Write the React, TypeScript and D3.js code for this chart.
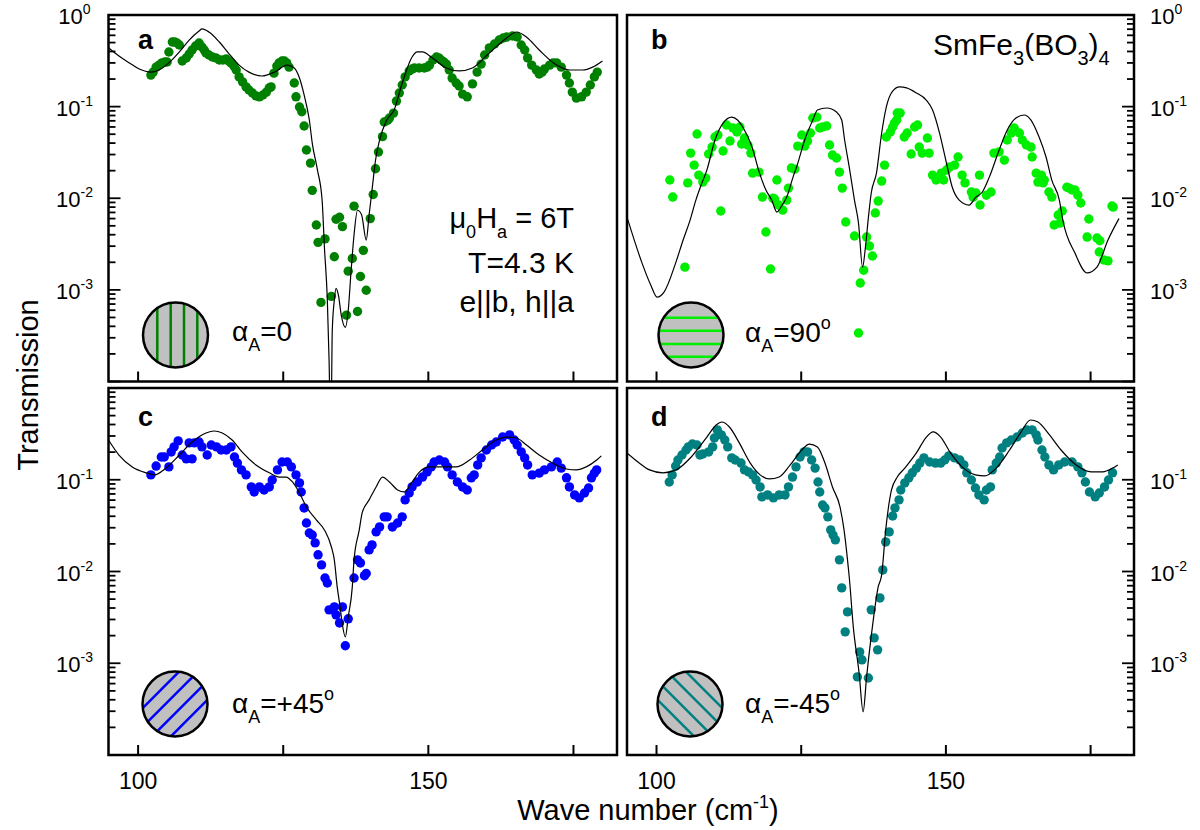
import React from 'react';
import * as d3 from 'd3';

type Pt = [number, number];

// ---------------- axes ----------------
const X_DOMAIN: [number, number] = [94.9, 182.5];
const Y_DOMAIN: [number, number] = [1e-4, 1];
const X_MAJOR_TICKS = [100, 125, 150, 175];
const X_TICK_LABELS = [100, 150];
const Y_EXP_TOP = [0, -1, -2, -3];
const Y_EXP_BOTTOM = [-1, -2, -3];

// ---------------- panel a (alpha_A = 0) ----------------
const dotsA: Pt[] = [
  [102.2, 0.221], [102.6, 0.238], [103.1, 0.27], [103.6, 0.284], [104.1, 0.3], [104.6, 0.307], [105.0, 0.307],
  [105.3, 0.395], [105.9, 0.507], [106.3, 0.507], [106.7, 0.495], [107.1, 0.47], [107.6, 0.315], [108.3, 0.34],
  [108.8, 0.375], [109.3, 0.415], [109.9, 0.459], [110.5, 0.495], [111.0, 0.448], [111.4, 0.415], [111.7, 0.385],
  [112.2, 0.366], [112.8, 0.348], [113.4, 0.34], [114.0, 0.323], [114.6, 0.323], [115.2, 0.331], [115.6, 0.315],
  [116.0, 0.3], [116.5, 0.277], [116.9, 0.251], [117.4, 0.211], [118.0, 0.186], [118.6, 0.164], [119.1, 0.152],
  [119.7, 0.141], [120.3, 0.131], [120.9, 0.128], [121.5, 0.134], [122.1, 0.144], [122.6, 0.16], [122.9, 0.164],
  [123.4, 0.232], [123.9, 0.277], [124.3, 0.3], [124.8, 0.315], [125.2, 0.315], [125.6, 0.3], [126.0, 0.27],
  [126.9, 0.181], [127.2, 0.128], [127.8, 0.099], [128.2, 0.088], [128.6, 0.0614], [129.0, 0.0336], [129.7, 0.0242],
  [130.0, 0.0122], [130.7, 0.0051], [131.0, 0.0033], [131.5, 0.00073], [132.2, 0.0036], [133.3, 0.00085],
  [133.8, 0.0023], [134.1, 0.0059], [134.7, 0.0062], [135.2, 0.0049], [135.9, 0.00053], [136.2, 0.0016],
  [136.9, 0.0022], [137.2, 0.0082], [137.8, 0.00058], [138.3, 0.0014], [138.8, 0.0027], [139.3, 0.00099],
  [140.0, 0.006], [140.5, 0.011], [140.9, 0.021], [141.4, 0.032], [142.1, 0.047], [142.4, 0.068], [143.0, 0.071],
  [143.3, 0.075], [144.0, 0.085], [144.5, 0.115], [145.0, 0.141], [145.5, 0.172], [146.0, 0.211], [146.7, 0.245],
  [147.2, 0.257], [147.6, 0.264], [148.4, 0.264], [149.3, 0.264], [149.8, 0.27], [150.2, 0.284], [150.8, 0.323],
  [151.4, 0.348], [151.8, 0.34], [152.2, 0.323], [152.7, 0.307], [153.1, 0.291], [153.6, 0.251], [154.1, 0.205],
  [154.8, 0.181], [155.3, 0.168], [155.9, 0.137], [156.7, 0.128], [157.6, 0.177], [158.4, 0.238], [159.1, 0.291],
  [159.7, 0.366], [160.5, 0.437], [161.4, 0.482], [162.2, 0.533], [162.9, 0.561], [163.5, 0.575], [164.5, 0.59],
  [165.3, 0.575], [166.0, 0.47], [166.6, 0.415], [167.1, 0.34], [167.8, 0.284], [168.6, 0.251], [169.1, 0.227],
  [169.6, 0.238], [170.0, 0.257], [170.9, 0.284], [171.5, 0.3], [172.1, 0.3], [172.9, 0.27], [173.8, 0.221],
  [174.3, 0.181], [174.8, 0.144], [175.5, 0.124], [176.4, 0.128], [177.2, 0.144], [177.9, 0.172], [178.6, 0.211],
  [179.1, 0.238],
];
const fitA: Pt[] = [
  [94.9, 0.44], [96.7, 0.357], [98.5, 0.3], [100.2, 0.257], [102.2, 0.238], [103.6, 0.251], [105.3, 0.3],
  [107.1, 0.395], [108.8, 0.533], [110.5, 0.669], [111.0, 0.704], [112.2, 0.652], [114.0, 0.507], [115.7, 0.375],
  [117.4, 0.284], [119.1, 0.238], [121.4, 0.216], [123.5, 0.238], [125.7, 0.284], [126.9, 0.264], [127.8, 0.205],
  [128.6, 0.134], [129.5, 0.0714], [130.0, 0.04], [130.9, 0.0203], [131.7, 0.0095], [132.1, 0.0029],
  [132.6, 0.00077], [132.9, 0.00017], [133.2, 0.00002], [133.45, 0.00036], [133.8, 0.00077], [134.1, 0.00104],
  [134.5, 0.00088], [135.0, 0.00053], [135.7, 0.00039], [136.2, 0.0006], [136.7, 0.00164], [137.2, 0.004],
  [137.8, 0.0074], [138.5, 0.0066], [139.3, 0.0035], [139.8, 0.0066], [140.3, 0.0123], [140.9, 0.026],
  [141.6, 0.043], [142.8, 0.071], [144.1, 0.092], [145.5, 0.181], [147.2, 0.348], [148.1, 0.395], [149.0, 0.395],
  [150.7, 0.34], [153.1, 0.264], [155.3, 0.245], [157.6, 0.264], [160.5, 0.385], [163.5, 0.561], [165.2, 0.652],
  [166.9, 0.575], [169.1, 0.415], [172.1, 0.284], [174.3, 0.251], [176.6, 0.251], [178.3, 0.27], [180.0, 0.315],
];

// ---------------- panel b (alpha_A = 90) ----------------
const dotsB: Pt[] = [
  [102.3, 0.0158], [102.8, 0.0103], [104.9, 0.00177], [105.4, 0.0147], [105.9, 0.0311], [106.5, 0.023],
  [107.0, 0.0502], [107.3, 0.0179], [108.0, 0.015], [108.5, 0.0166], [109.0, 0.0304], [109.6, 0.0362],
  [110.1, 0.0466], [110.6, 0.049], [111.1, 0.00725], [111.5, 0.0328], [112.1, 0.063], [112.7, 0.0421],
  [113.2, 0.0584], [113.9, 0.0528], [114.4, 0.0599], [114.7, 0.0391], [115.2, 0.0454], [115.8, 0.038],
  [116.3, 0.0311], [116.6, 0.0188], [117.7, 0.0193], [118.3, 0.0103], [118.9, 0.00428], [119.7, 0.00169],
  [120.1, 0.01], [120.4, 0.0098], [120.8, 0.0158], [121.1, 0.00843], [121.8, 0.00743], [122.5, 0.00955],
  [122.8, 0.0129], [123.3, 0.0214], [123.9, 0.0208], [124.4, 0.0371], [125.1, 0.049], [125.6, 0.0371],
  [126.1, 0.0421], [126.6, 0.0515], [127.0, 0.0751], [127.7, 0.0769], [128.2, 0.0584], [128.7, 0.0599],
  [129.4, 0.0614], [129.9, 0.0381], [130.4, 0.0296], [131.1, 0.0275], [131.6, 0.0193], [132.1, 0.0129],
  [132.7, 0.0055], [134.2, 0.00387], [134.9, 0.000338], [135.2, 0.00119], [135.8, 0.00164], [136.3, 0.00377],
  [136.8, 0.00301], [137.3, 0.00234], [137.8, 0.0069], [138.3, 0.00932], [138.9, 0.0154], [139.4, 0.023],
  [139.7, 0.0466], [140.4, 0.0528], [140.8, 0.0599], [141.1, 0.0662], [141.5, 0.0714], [141.6, 0.0851],
  [142.1, 0.0851], [142.8, 0.0466], [143.3, 0.0515], [144.0, 0.0304], [144.6, 0.0599], [145.1, 0.063],
  [145.4, 0.0362], [145.9, 0.0311], [146.8, 0.0454], [147.1, 0.0311], [147.7, 0.0179], [148.3, 0.0158],
  [149.2, 0.0188], [149.6, 0.0158], [150.1, 0.0203], [150.6, 0.0219], [151.5, 0.023], [152.1, 0.0282],
  [152.8, 0.0179], [153.3, 0.0147], [154.4, 0.0117], [154.7, 0.0103], [155.2, 0.0114], [155.8, 0.0179],
  [155.9, 0.00843], [157.0, 0.0108], [157.8, 0.0117], [158.3, 0.0311], [159.2, 0.0321], [160.1, 0.0261],
  [160.6, 0.0432], [161.3, 0.0515], [161.8, 0.0584], [162.7, 0.0515], [163.2, 0.0432], [163.9, 0.0381],
  [164.7, 0.0362], [164.9, 0.0282], [165.6, 0.0188], [165.9, 0.015], [166.5, 0.0179], [166.8, 0.0147],
  [167.0, 0.0158], [167.8, 0.0117], [168.3, 0.0103], [168.7, 0.0051], [169.4, 0.00656], [169.7, 0.00536],
  [170.1, 0.00725], [170.9, 0.0132], [171.3, 0.0129], [171.8, 0.0123], [172.3, 0.0123], [172.8, 0.0108],
  [173.3, 0.00887], [174.4, 0.00377], [174.7, 0.00593], [176.1, 0.00368], [176.5, 0.00259], [176.6, 0.00344],
  [177.3, 0.00212], [178.0, 0.00207], [178.7, 0.00822], [178.9, 0.008],
];
const fitB: Pt[] = [
  [94.9, 0.00623], [97.5, 0.00196], [99.0, 0.00113], [100.1, 0.000834], [101.3, 0.000946], [103.3, 0.00196],
  [104.6, 0.0035], [105.8, 0.00578], [106.8, 0.00955], [107.7, 0.0139], [108.7, 0.0203], [110.1, 0.0432],
  [111.5, 0.0662], [113.0, 0.0769], [114.0, 0.0714], [114.9, 0.0599], [116.5, 0.0362], [117.8, 0.0188],
  [118.9, 0.0123], [119.9, 0.00955], [120.8, 0.00707], [121.5, 0.00802], [122.5, 0.0103], [123.7, 0.0179],
  [124.2, 0.0219], [125.6, 0.0432], [127.0, 0.0714], [127.8, 0.0918], [129.4, 0.0966], [131.1, 0.0873],
  [132.0, 0.0714], [132.5, 0.0432], [133.3, 0.0219], [134.2, 0.00955], [134.9, 0.00536], [135.6, 0.00177],
  [136.1, 0.00293], [136.6, 0.0061], [137.1, 0.0114], [138.0, 0.0188], [138.9, 0.0515], [139.7, 0.0988],
  [140.8, 0.148], [142.0, 0.164], [143.2, 0.16], [144.9, 0.141], [146.6, 0.118], [147.7, 0.0918],
  [148.9, 0.0515], [150.1, 0.0242], [151.1, 0.0132], [152.3, 0.00955], [154.0, 0.00843], [155.2, 0.0103],
  [156.3, 0.0117], [157.5, 0.017], [159.2, 0.0336], [160.6, 0.0555], [162.1, 0.075], [163.5, 0.081],
  [164.7, 0.0714], [166.1, 0.0466], [167.3, 0.0282], [168.3, 0.0158], [169.6, 0.00955], [170.2, 0.00578],
  [172.3, 0.00252], [174.4, 0.00153], [176.1, 0.00177], [178.0, 0.0035], [179.9, 0.006],
];

// ---------------- panel c (alpha_A = +45) ----------------
const dotsC: Pt[] = [
  [102.2, 0.113], [103.1, 0.141], [104.0, 0.177], [104.5, 0.177], [105.3, 0.138], [105.7, 0.201], [106.2, 0.228],
  [106.9, 0.265], [107.6, 0.186], [108.3, 0.169], [108.8, 0.252], [109.3, 0.169], [109.7, 0.252], [110.5, 0.258],
  [111.0, 0.228], [111.9, 0.186], [112.6, 0.239], [113.5, 0.228], [114.3, 0.211], [115.2, 0.211], [116.0, 0.228],
  [116.6, 0.177], [117.1, 0.152], [117.8, 0.128], [118.6, 0.113], [119.5, 0.0835], [120.0, 0.0736],
  [120.9, 0.0835], [121.7, 0.0774], [122.6, 0.0835], [123.1, 0.0995], [124.0, 0.128], [124.8, 0.156],
  [125.7, 0.156], [126.4, 0.138], [127.2, 0.113], [127.8, 0.0923], [128.1, 0.0736], [128.6, 0.0493],
  [129.0, 0.0338], [129.5, 0.0263], [130.0, 0.025], [130.5, 0.0205], [131.0, 0.0152], [131.6, 0.0118],
  [132.2, 0.0085], [132.6, 0.0075], [132.9, 0.00382], [133.8, 0.00411], [134.1, 0.00337], [134.7, 0.00275],
  [135.2, 0.00411], [135.7, 0.00155], [136.2, 0.00305], [137.2, 0.0085], [137.8, 0.0134], [138.3, 0.0124],
  [139.0, 0.009], [139.3, 0.0095], [139.8, 0.0172], [140.3, 0.0195], [141.0, 0.027], [141.6, 0.0306],
  [142.4, 0.0394], [142.9, 0.0394], [143.8, 0.0306], [144.7, 0.0338], [145.5, 0.0394], [146.0, 0.0603],
  [146.7, 0.0718], [147.2, 0.0835], [148.1, 0.0946], [149.0, 0.107], [149.8, 0.122], [150.5, 0.138],
  [151.0, 0.156], [151.9, 0.164], [152.8, 0.156], [153.3, 0.138], [154.1, 0.113], [155.0, 0.0946],
  [155.9, 0.0835], [156.7, 0.0774], [157.4, 0.105], [157.9, 0.113], [158.5, 0.145], [159.1, 0.173],
  [160.0, 0.211], [160.9, 0.239], [161.7, 0.258], [162.8, 0.292], [164.0, 0.308], [164.8, 0.271], [165.3, 0.239],
  [166.0, 0.201], [166.6, 0.173], [167.1, 0.145], [167.9, 0.113], [169.1, 0.118], [170.0, 0.128], [171.2, 0.138],
  [172.2, 0.156], [172.9, 0.134], [173.8, 0.105], [174.3, 0.0835], [175.2, 0.0683], [176.0, 0.0634],
  [176.9, 0.0718], [177.6, 0.0814], [178.1, 0.105], [178.6, 0.118], [179.0, 0.128],
];
const fitC: Pt[] = [
  [94.9, 0.271], [96.7, 0.186], [99.0, 0.138], [101.4, 0.119], [102.8, 0.113], [104.8, 0.134], [107.1, 0.186],
  [109.3, 0.258], [111.7, 0.323], [113.1, 0.34], [114.5, 0.323], [116.2, 0.271], [117.9, 0.201], [120.3, 0.145],
  [122.6, 0.119], [124.3, 0.107], [125.5, 0.107], [126.6, 0.0946], [127.8, 0.0718], [129.0, 0.0506],
  [130.7, 0.0365], [132.1, 0.0284], [133.3, 0.0185], [133.8, 0.0134], [134.3, 0.0068], [134.8, 0.00411],
  [135.2, 0.00262], [135.7, 0.00194], [136.2, 0.0032], [136.9, 0.0068], [137.2, 0.0134], [138.1, 0.0284],
  [138.6, 0.0435], [139.8, 0.0603], [141.0, 0.0835], [142.1, 0.107], [143.3, 0.0946], [144.7, 0.0774],
  [145.9, 0.0736], [147.1, 0.0923], [148.5, 0.122], [150.2, 0.138], [152.4, 0.138], [154.8, 0.138],
  [157.1, 0.164], [159.3, 0.211], [161.7, 0.271], [163.5, 0.292], [165.2, 0.285], [166.9, 0.239], [169.1, 0.186],
  [171.4, 0.152], [173.8, 0.131], [175.5, 0.128], [177.2, 0.138], [179.0, 0.164], [179.8, 0.182],
];

// ---------------- panel d (alpha_A = -45) ----------------
const dotsD: Pt[] = [
  [102.2, 0.0946], [102.7, 0.113], [103.3, 0.141], [103.7, 0.164], [104.4, 0.186], [105.1, 0.211], [105.5, 0.228],
  [106.2, 0.245], [107.0, 0.239], [107.5, 0.186], [108.0, 0.191], [109.0, 0.201], [109.7, 0.228], [110.0, 0.285],
  [110.5, 0.349], [111.2, 0.308], [111.8, 0.271], [112.3, 0.228], [113.0, 0.173], [113.6, 0.164], [114.6, 0.152],
  [115.2, 0.128], [115.9, 0.122], [116.6, 0.113], [117.2, 0.0995], [117.9, 0.0835], [118.2, 0.065],
  [119.2, 0.0683], [120.2, 0.0634], [121.2, 0.0683], [122.2, 0.0683], [122.8, 0.0835], [123.5, 0.107],
  [124.1, 0.138], [124.8, 0.177], [125.5, 0.201], [126.1, 0.201], [126.8, 0.164], [127.4, 0.134], [127.9, 0.0946],
  [128.2, 0.0736], [128.7, 0.0531], [129.1, 0.0493], [129.6, 0.0394], [130.1, 0.0284], [130.5, 0.025],
  [130.9, 0.0221], [131.6, 0.0134], [132.0, 0.00663], [132.6, 0.0022], [133.0, 0.00363], [134.7, 0.00071],
  [135.1, 0.00133], [135.5, 0.00109], [136.6, 0.00069], [137.1, 0.00382], [137.6, 0.00189], [138.2, 0.0014],
  [138.6, 0.00515], [139.1, 0.0104], [139.6, 0.021], [140.2, 0.027], [140.8, 0.0403], [141.2, 0.0493],
  [141.9, 0.0603], [142.2, 0.0774], [142.9, 0.0923], [143.6, 0.105], [144.2, 0.119], [144.9, 0.134],
  [145.5, 0.152], [146.2, 0.173], [147.2, 0.156], [148.2, 0.152], [149.1, 0.152], [149.8, 0.164], [150.5, 0.182],
  [151.5, 0.173], [152.4, 0.164], [153.1, 0.145], [153.6, 0.119], [154.4, 0.0995], [155.1, 0.0814],
  [155.7, 0.0683], [156.6, 0.0603], [157.0, 0.0774], [157.7, 0.0835], [158.0, 0.128], [158.7, 0.152],
  [159.3, 0.177], [159.7, 0.222], [160.5, 0.252], [161.3, 0.271], [162.3, 0.292], [163.2, 0.323], [164.0, 0.349],
  [164.9, 0.349], [165.6, 0.308], [165.9, 0.271], [166.6, 0.211], [167.1, 0.177], [167.8, 0.145], [168.6, 0.128],
  [169.5, 0.145], [170.5, 0.156], [171.8, 0.156], [172.8, 0.138], [173.5, 0.119], [174.1, 0.0946],
  [174.8, 0.0736], [175.8, 0.065], [176.5, 0.0718], [177.4, 0.0835], [178.1, 0.0995], [178.8, 0.119],
];
const fitD: Pt[] = [
  [94.9, 0.196], [96.8, 0.156], [98.8, 0.128], [101.1, 0.119], [103.4, 0.128], [106.0, 0.177], [108.7, 0.292],
  [110.3, 0.395], [111.3, 0.426], [112.6, 0.376], [114.3, 0.252], [116.2, 0.152], [117.9, 0.113], [119.5, 0.102],
  [121.2, 0.107], [123.1, 0.145], [125.1, 0.211], [126.4, 0.245], [127.8, 0.228], [129.1, 0.152], [130.4, 0.0835],
  [131.7, 0.0506], [132.4, 0.0284], [133.0, 0.0134], [133.3, 0.0087], [134.0, 0.00249], [135.0, 0.000785],
  [135.7, 0.000296], [136.3, 0.00071], [137.3, 0.00249], [138.3, 0.0068], [138.9, 0.0092], [139.6, 0.0284],
  [140.6, 0.0774], [141.6, 0.107], [142.9, 0.134], [144.9, 0.196], [146.5, 0.285], [147.8, 0.332],
  [149.1, 0.292], [150.8, 0.196], [152.8, 0.138], [155.1, 0.113], [156.7, 0.11], [158.7, 0.134], [161.0, 0.211],
  [163.0, 0.332], [164.6, 0.448], [165.9, 0.426], [167.9, 0.308], [169.9, 0.211], [172.5, 0.145], [175.1, 0.122],
  [177.1, 0.122], [178.8, 0.134], [179.7, 0.145],
];

// ---------------- layout ----------------
const FONT = "'Liberation Sans', Arial, Helvetica, sans-serif";

interface PanelSpec {
  id: string;
  x0: number; x1: number; y0: number; y1: number;
  side: 'left' | 'right';
  dots: Pt[]; fit: Pt[]; color: string;
  expLabels: number[];
  letter: string; letterX: number; letterY: number;
  circle: { cx: number; cy: number; angle: number; offsets: number[] };
  alpha: { x: number; y: number; value: string; deg: boolean };
}

const PANELS: PanelSpec[] = [
  {
    id: 'a', x0: 108.5, x1: 617, y0: 15, y1: 381.5, side: 'left', dots: dotsA, fit: fitA, color: '#008000',
    expLabels: Y_EXP_TOP, letter: 'a', letterX: 138, letterY: 49,
    circle: { cx: 175.5, cy: 335, angle: 90, offsets: [18.2, 4.8, -8.5, -21.8] },
    alpha: { x: 232, y: 341, value: '=0', deg: false },
  },
  {
    id: 'b', x0: 627, x1: 1134, y0: 15, y1: 381.5, side: 'right', dots: dotsB, fit: fitB, color: '#00ee00',
    expLabels: Y_EXP_TOP, letter: 'b', letterX: 651, letterY: 49,
    circle: { cx: 691, cy: 335, angle: 0, offsets: [-17.3, -4.3, 9, 21.7] },
    alpha: { x: 745, y: 342, value: '=90', deg: true },
  },
  {
    id: 'c', x0: 108.5, x1: 617, y0: 388, y1: 755, side: 'left', dots: dotsC, fit: fitC, color: '#0000ff',
    expLabels: Y_EXP_BOTTOM, letter: 'c', letterX: 138, letterY: 426,
    circle: { cx: 175, cy: 704, angle: -45, offsets: [-20, -6.7, 6.7, 20] },
    alpha: { x: 232, y: 713, value: '=+45', deg: true },
  },
  {
    id: 'd', x0: 627, x1: 1134, y0: 388, y1: 755, side: 'right', dots: dotsD, fit: fitD, color: '#008080',
    expLabels: Y_EXP_BOTTOM, letter: 'd', letterX: 651, letterY: 426,
    circle: { cx: 690, cy: 704, angle: 45, offsets: [-20, -6.7, 6.7, 20] },
    alpha: { x: 745, y: 713, value: '=-45', deg: true },
  },
];

function Panel({ p }: { p: PanelSpec }) {
  const x = d3.scaleLinear().domain(X_DOMAIN).range([p.x0, p.x1]);
  const y = d3.scaleLog().domain(Y_DOMAIN).range([p.y1, p.y0]);
  const line = d3.line<Pt>().x(d => x(d[0])).y(d => y(d[1])).curve(d3.curveMonotoneX);
  const clipId = `clip-${p.id}`;
  const circClip = `circ-${p.id}`;
  const yTicks = y.ticks();
  const isMajor = (v: number) => Math.abs(Math.log10(v) - Math.round(Math.log10(v))) < 1e-6;
  const r = 32.5;
  return (
    <g>
      <defs>
        <clipPath id={clipId}>
          <rect x={p.x0} y={p.y0} width={p.x1 - p.x0} height={p.y1 - p.y0} />
        </clipPath>
        <clipPath id={circClip}>
          <circle cx={p.circle.cx} cy={p.circle.cy} r={r} />
        </clipPath>
      </defs>
      <g clipPath={`url(#${clipId})`}>
        {p.dots.map((d, i) => (
          <circle key={i} cx={x(d[0])} cy={y(d[1])} r={4.7} fill={p.color} />
        ))}
        <path d={line(p.fit) || ''} fill="none" stroke="#000" strokeWidth={1.2} />
      </g>
      {yTicks.map((v, i) => {
        const len = isMajor(v) ? 12 : 7;
        const yy = y(v);
        return p.side === 'left' ? (
          <line key={`yt${i}`} x1={p.x0} x2={p.x0 + len} y1={yy} y2={yy} stroke="#000" strokeWidth={1.8} />
        ) : (
          <line key={`yt${i}`} x1={p.x1} x2={p.x1 - len} y1={yy} y2={yy} stroke="#000" strokeWidth={1.8} />
        );
      })}
      {X_MAJOR_TICKS.map(v => (
        <line key={`xt${v}`} x1={x(v)} x2={x(v)} y1={p.y1} y2={p.y1 - 10} stroke="#000" strokeWidth={2} />
      ))}
      <rect x={p.x0} y={p.y0} width={p.x1 - p.x0} height={p.y1 - p.y0} fill="none" stroke="#000" strokeWidth={2.5} />
      {p.expLabels.map(e => {
        const yy = y(Math.pow(10, e)) + 9;
        return p.side === 'left' ? (
          <text key={`yl${e}`} x={74.5} y={yy} textAnchor="middle" fontFamily={FONT} fontSize={22}>
            10<tspan fontSize={14} dy={-10}>{e}</tspan>
          </text>
        ) : (
          <text key={`yl${e}`} x={1150} y={yy} textAnchor="start" fontFamily={FONT} fontSize={22}>
            10<tspan fontSize={14} dy={-10}>{e}</tspan>
          </text>
        );
      })}
      <text x={p.letterX} y={p.letterY} fontFamily={FONT} fontSize={27} fontWeight="bold">{p.letter}</text>
      <circle cx={p.circle.cx} cy={p.circle.cy} r={r} fill="#c0c0c0" />
      <g clipPath={`url(#${circClip})`}>
        <g transform={`translate(${p.circle.cx},${p.circle.cy}) rotate(${p.circle.angle})`}>
          {p.circle.offsets.map((o, i) => (
            <line key={i} x1={-45} x2={45} y1={o} y2={o} stroke={p.color} strokeWidth={2.5} />
          ))}
        </g>
      </g>
      <circle cx={p.circle.cx} cy={p.circle.cy} r={r} fill="none" stroke="#000" strokeWidth={2.5} />
      <text x={p.alpha.x} y={p.alpha.y} fontFamily={FONT} fontSize={28}>
        α<tspan fontSize={18} dy={10}>A</tspan>
        <tspan dy={-10}>{p.alpha.value}</tspan>
        {p.alpha.deg ? <tspan fontSize={18} dy={-13}>o</tspan> : null}
      </text>
    </g>
  );
}

export default function App() {
  const xl = d3.scaleLinear().domain(X_DOMAIN).range([PANELS[2].x0, PANELS[2].x1]);
  const xr = d3.scaleLinear().domain(X_DOMAIN).range([PANELS[3].x0, PANELS[3].x1]);
  return (
    <svg width={1200} height={830} viewBox="0 0 1200 830"
      style={{ position: 'absolute', left: 0, top: 0, background: '#fff' }}>
      <rect x={0} y={0} width={1200} height={830} fill="#fff" />
      {PANELS.map(p => <Panel key={p.id} p={p} />)}
      {X_TICK_LABELS.map(v => (
        <text key={`l${v}`} x={xl(v)} y={789} textAnchor="middle" fontFamily={FONT} fontSize={23}>{v}</text>
      ))}
      {X_TICK_LABELS.map(v => (
        <text key={`r${v}`} x={xr(v)} y={789} textAnchor="middle" fontFamily={FONT} fontSize={23}>{v}</text>
      ))}
      <text x={648} y={820} textAnchor="middle" fontFamily={FONT} fontSize={29}>
        Wave number (cm<tspan fontSize={18} dy={-12}>-1</tspan><tspan dy={12}>)</tspan>
      </text>
      <text transform="translate(38,385) rotate(-90)" textAnchor="middle" fontFamily={FONT} fontSize={29}>
        Transmission
      </text>
      <text x={933} y={55} fontFamily={FONT} fontSize={30}>
        SmFe<tspan fontSize={20} dy={10}>3</tspan><tspan dy={-10}>(BO</tspan>
        <tspan fontSize={20} dy={10}>3</tspan><tspan dy={-10}>)</tspan><tspan fontSize={20} dy={10}>4</tspan>
      </text>
      <text x={574} y={228} textAnchor="end" fontFamily={FONT} fontSize={29}>
        μ<tspan fontSize={18} dy={10}>0</tspan><tspan dy={-10}>H</tspan><tspan fontSize={18} dy={10}>a</tspan>
        <tspan dy={-10}> = 6T</tspan>
      </text>
      <text x={574} y={273} textAnchor="end" fontFamily={FONT} fontSize={30}>T=4.3 K</text>
      <text x={574} y={312} textAnchor="end" fontFamily={FONT} fontSize={30}>e||b, h||a</text>
    </svg>
  );
}
